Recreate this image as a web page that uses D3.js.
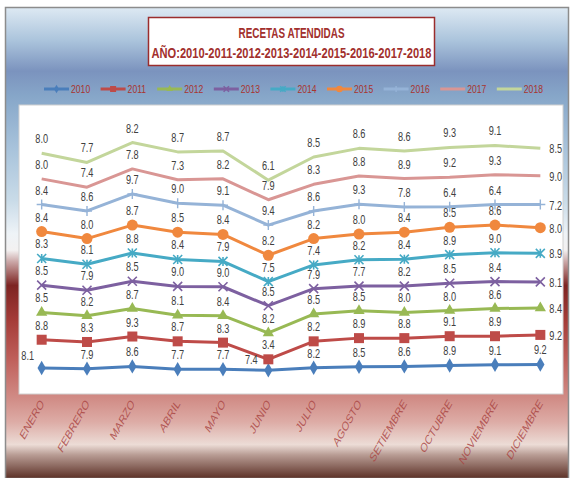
<!DOCTYPE html>
<html>
<head>
<meta charset="utf-8">
<script src="https://cdn.jsdelivr.net/npm/d3@7"></script>
<style>
  body { margin: 0; background: #ffffff; }
  svg { display: block; }
  text { font-family: "Liberation Sans", Arial, sans-serif; }
</style>
</head>
<body>
<svg id="chart" width="570" height="478"></svg>
<script>
// ---- data ----
const months = ["ENERO", "FEBRERO", "MARZO", "ABRIL", "MAYO", "JUNIO", "JULIO",
                "AGOSTO", "SETIEMBRE", "OCTUBRE", "NOVIEMBRE", "DICIEMBRE"];
const years = ["2010", "2011", "2012", "2013", "2014", "2015", "2016", "2017", "2018"];

const v2010 = [8.1, 7.9, 8.6, 7.7, 7.7, 7.4, 8.2, 8.5, 8.6, 8.9, 9.1, 9.2];
const v2011 = [8.8, 8.3, 9.3, 8.7, 8.3, 3.4, 8.2, 8.9, 8.8, 9.1, 8.9, 9.2];
const v2012 = [8.5, 8.2, 8.7, 8.1, 8.4, 8.2, 8.5, 8.5, 8.0, 8.0, 8.6, 8.4];
const v2013 = [8.5, 7.9, 8.5, 9.0, 9.0, 8.5, 7.9, 7.7, 8.2, 8.5, 8.4, 8.1];
const v2014 = [8.3, 8.1, 8.8, 8.4, 7.9, 7.5, 7.4, 8.2, 8.4, 8.9, 9.0, 8.9];
const v2015 = [8.4, 8.0, 8.7, 8.5, 8.4, 8.2, 8.2, 8.0, 8.4, 8.5, 8.6, 8.0];
const v2016 = [8.4, 8.6, 9.7, 9.0, 9.1, 9.4, 8.6, 9.3, 7.8, 6.4, 6.4, 7.2];
const v2017 = [8.0, 7.4, 7.8, 7.3, 8.2, 7.9, 8.3, 8.8, 8.9, 9.2, 9.3, 9.0];
const v2018 = [8.0, 7.7, 8.2, 8.7, 8.7, 6.1, 8.5, 8.6, 8.6, 9.3, 9.1, 8.5];

const valueAxisMax = 90;

const seriesValues = [v2010, v2011, v2012, v2013, v2014, v2015, v2016, v2017, v2018];

// ---- styles per series ----
const styles = [
  { color: "#4a7ebb", marker: "diamond" },
  { color: "#be4b48", marker: "square" },
  { color: "#98b954", marker: "triangle" },
  { color: "#7d60a0", marker: "x" },
  { color: "#46aac5", marker: "star" },
  { color: "#f0883e", marker: "circle" },
  { color: "#95b3d7", marker: "plus" },
  { color: "#d99694", marker: "none" },
  { color: "#c3d69b", marker: "none" }
];

// a few data labels sit beside their point instead of above it
const labelNudge = { "0-0": [-14, 2], "0-5": [-17, 4] };

// ---- table for stacking ----
const table = months.map((m, i) => {
  const row = { month: m };
  years.forEach((y, j) => { row[y] = seriesValues[j][i]; });
  return row;
});
const stacked = d3.stack().keys(years)(table);

const svg = d3.select("#chart");
const defs = svg.append("defs");

// narrow text helper: glyphs are condensed horizontally
function narrowText(parent, x, y, str, size, sx, anchor, rot) {
  return parent.append("text")
    .attr("transform", `translate(${x},${y}) scale(${sx},1)${rot ? ` rotate(${rot})` : ""}`)
    .attr("font-size", size)
    .attr("text-anchor", anchor || "start")
    .text(str);
}

// chart area background gradient
const bg = defs.append("linearGradient")
  .attr("id", "bgGrad").attr("x1", 0).attr("y1", 0).attr("x2", 0).attr("y2", 1);
[
  [0.00, "#dde9f3"], [0.07, "#abc4dc"], [0.135, "#7b93be"], [0.19, "#87a7c9"],
  [0.30, "#a8c3db"], [0.41, "#c9dbe8"], [0.48, "#eef3f7"], [0.515, "#f3f1f1"],
  [0.54, "#caa6a6"], [0.59, "#7d2422"], [0.665, "#a53c38"], [0.75, "#c0615c"],
  [0.835, "#d28f89"], [0.88, "#ddaca6"], [0.928, "#ecdcd6"], [0.95, "#b89c94"],
  [1.00, "#5c3026"]
].forEach(([o, c]) => bg.append("stop").attr("offset", o).attr("stop-color", c));

svg.append("rect")
  .attr("x", 5.5).attr("y", 7.5).attr("width", 563).attr("height", 471)
  .attr("fill", "url(#bgGrad)")
  .attr("stroke", "#8c8c8c").attr("stroke-width", 1.5);

// plot area
const plot = { left: 19, top: 105, right: 563, bottom: 394 };
svg.append("rect")
  .attr("x", plot.left).attr("y", plot.top)
  .attr("width", plot.right - plot.left).attr("height", plot.bottom - plot.top)
  .attr("fill", "#ffffff")
  .attr("stroke", "#d0d0d0").attr("stroke-width", 1);

const x = d3.scalePoint().domain(months).range([plot.left, plot.right]).padding(0.5);
const y = d3.scaleLinear().domain([0, valueAxisMax]).range([plot.bottom, plot.top]);

// ---- title ----
const tb = { x: 148.5, y: 17.5, w: 286, h: 48 };
svg.append("rect")
  .attr("x", tb.x).attr("y", tb.y).attr("width", tb.w).attr("height", tb.h)
  .attr("fill", "#ffffff").attr("stroke", "#9b2d2d").attr("stroke-width", 1.5);
const titleG = svg.append("g").attr("fill", "#a2302d").attr("font-weight", "bold");
titleG.append("text").attr("x", tb.x + tb.w / 2).attr("y", 37.5)
  .attr("text-anchor", "middle").attr("font-size", 15)
  .attr("textLength", 106).attr("lengthAdjust", "spacingAndGlyphs")
  .text("RECETAS ATENDIDAS");
titleG.append("text").attr("x", tb.x + tb.w / 2).attr("y", 57.5)
  .attr("text-anchor", "middle").attr("font-size", 15)
  .attr("textLength", 280).attr("lengthAdjust", "spacingAndGlyphs")
  .text("AÑO:2010-2011-2012-2013-2014-2015-2016-2017-2018");

// ---- marker drawing ----
function drawMarker(g, type, color, cx, cy, s) {
  switch (type) {
    case "diamond":
      g.append("path").attr("d", d3.symbol(d3.symbolDiamond, s * s * 0.6)())
        .attr("transform", `translate(${cx},${cy})`).attr("fill", color);
      break;
    case "square":
      g.append("rect").attr("x", cx - s / 2).attr("y", cy - s / 2)
        .attr("width", s).attr("height", s).attr("fill", color);
      break;
    case "triangle":
      g.append("path").attr("d", d3.symbol(d3.symbolTriangle, s * s * 0.55)())
        .attr("transform", `translate(${cx},${cy})`).attr("fill", color);
      break;
    case "circle":
      g.append("circle").attr("cx", cx).attr("cy", cy).attr("r", s / 2).attr("fill", color);
      break;
    case "x": {
      const h = s / 2;
      g.append("path").attr("d", `M${cx - h},${cy - h}L${cx + h},${cy + h}M${cx - h},${cy + h}L${cx + h},${cy - h}`)
        .attr("stroke", color).attr("stroke-width", 1.6).attr("fill", "none");
      break;
    }
    case "star": {
      const h = s / 2;
      g.append("path").attr("d", `M${cx - h},${cy - h}L${cx + h},${cy + h}M${cx - h},${cy + h}L${cx + h},${cy - h}M${cx},${cy - h}L${cx},${cy + h}`)
        .attr("stroke", color).attr("stroke-width", 1.6).attr("fill", "none");
      break;
    }
    case "plus": {
      const h = s / 2;
      g.append("path").attr("d", `M${cx - h},${cy}L${cx + h},${cy}M${cx},${cy - h}L${cx},${cy + h}`)
        .attr("stroke", color).attr("stroke-width", 1.4).attr("fill", "none");
      break;
    }
    default: break;
  }
}

const markerSize = { diamond: 10, square: 10, triangle: 10, circle: 11, x: 9, star: 9, plus: 10, none: 0 };

// ---- series lines, markers, labels ----
const line = d3.line().x(d => x(d.data.month)).y(d => y(d[1]));
const seriesG = svg.append("g");
const labelG = svg.append("g").attr("fill", "#404040");

stacked.forEach((layer, j) => {
  const st = styles[j];
  const g = seriesG.append("g");
  g.append("path").datum(layer).attr("d", line)
    .attr("fill", "none").attr("stroke", st.color)
    .attr("stroke-width", 3).attr("stroke-linejoin", "round");
  layer.forEach(d => {
    drawMarker(g, st.marker, st.color, x(d.data.month), y(d[1]), markerSize[st.marker]);
  });
  layer.forEach((d, i) => {
    const px = x(d.data.month), py = y(d[1]);
    const val = seriesValues[j][i];
    const last = i === months.length - 1 && j > 0;
    const nudge = labelNudge[`${j}-${i}`] || [0, 0];
    narrowText(labelG,
      (last ? px + 9 : px) + nudge[0],
      (last ? py + 5 : py - 10) + nudge[1],
      val.toFixed(1), 13.5, 0.68, last ? "start" : "middle");
  });
});

// ---- category labels ----
const catG = svg.append("g").attr("fill", "#a8423f").attr("fill-opacity", 0.82);
months.forEach(m => {
  narrowText(catG, x(m) + 3, 404, m, 13, 0.72, "end", -52);
});

// ---- legend ----
const legG = svg.append("g");
years.forEach((yr, j) => {
  const lx = 44 + j * 56.6, ly = 89;
  const st = styles[j];
  legG.append("line").attr("x1", lx).attr("x2", lx + 25).attr("y1", ly).attr("y2", ly)
    .attr("stroke", st.color).attr("stroke-width", 3);
  drawMarker(legG, st.marker, st.color, lx + 12.5, ly, markerSize[st.marker] * 0.6);
  narrowText(legG, lx + 27, ly + 4, yr, 11.5, 0.75, "start").attr("fill", "#a8342e");
});
</script>
</body>
</html>
